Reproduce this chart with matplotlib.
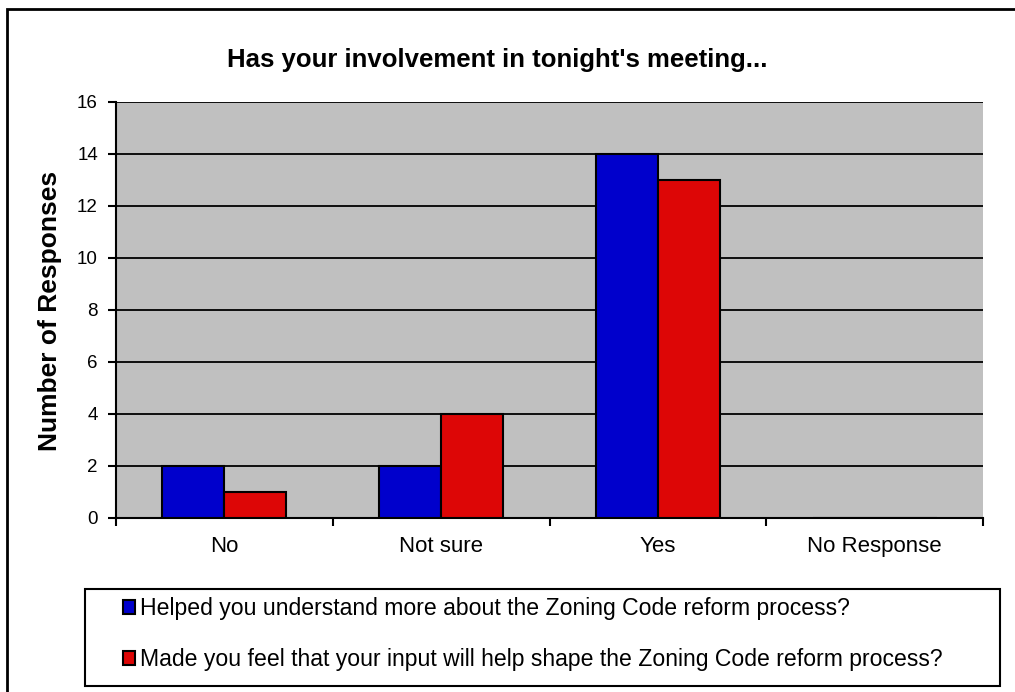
import numpy as np
import matplotlib
matplotlib.use("Agg")
import matplotlib.pyplot as plt
from matplotlib.patches import Rectangle

plt.rcParams['font.family'] = ['Liberation Sans', 'DejaVu Sans']

categories = ["No", "Not sure", "Yes", "No Response"]
understand = [2, 2, 14, 0]
input_shape = [1, 4, 13, 0]
series_names = [
    "Helped you understand more about the Zoning Code reform process?",
    "Made you feel that your input will help shape the Zoning Code reform process?",
]

W, H = 1015, 692
fig = plt.figure(figsize=(W / 100, H / 100), dpi=100)

# outer chart border (right/bottom fall outside the image)
fig.patches.append(Rectangle((7 / W, -0.05), 1.1, 1 - 9 / H + 0.05,
                             transform=fig.transFigure, fill=False,
                             edgecolor="black", linewidth=2, zorder=0))

ax = fig.add_axes([116 / W, 1 - 518 / H, (983 - 116) / W, (518 - 102) / H])
ax.set_facecolor("#C0C0C0")

x = np.arange(len(categories))
bw = 1 / 3.5
ax.bar(x - bw / 2, understand, bw, color="#0000CC", edgecolor="black",
       linewidth=1.5, zorder=3, label=series_names[0])
ax.bar(x + bw / 2, input_shape, bw, color="#DD0606", edgecolor="black",
       linewidth=1.5, zorder=3, label=series_names[1])

ax.set_xlim(-0.5, len(categories) - 0.5)
ax.set_ylim(0, 16)
ax.set_yticks(range(0, 17, 2))
ax.yaxis.grid(True, color="black", linewidth=1.3, zorder=1)
ax.set_axisbelow(True)

ax.set_xticks(np.arange(-0.5, len(categories), 1))
ax.set_xticklabels([])
ax.set_xticks(x, minor=True)
ax.set_xticklabels(categories, minor=True, fontsize=16)
ax.tick_params(axis="x", which="minor", length=0, pad=13)
ax.tick_params(axis="x", which="major", length=6, width=1.5, direction="out")
ax.tick_params(axis="y", length=6, width=1.5, direction="out", labelsize=13.5, pad=7)

for s in ["top", "right"]:
    ax.spines[s].set_visible(False)
for s in ["left", "bottom"]:
    ax.spines[s].set_linewidth(1.5)

fig.text(50 / W, 1 - 311 / H, "Number of Responses", rotation=90,
         ha="center", va="center", fontsize=19, fontweight="bold")

fig.text(0.49, 1 - 60 / H, "Has your involvement in tonight's meeting...",
         ha="center", va="center", fontsize=18.5, fontweight="bold")

# legend box
fig.patches.append(Rectangle((85 / W, 1 - 686 / H), (1000 - 85) / W, (686 - 589) / H,
                             transform=fig.transFigure, fill=False,
                             edgecolor="black", linewidth=1.5, zorder=1))
leg = fig.legend(loc="upper left", bbox_to_anchor=(123 / W, 1 - 597 / H),
                 ncol=1, fontsize=16.6, frameon=False,
                 handlelength=0.52, handleheight=0.52,
                 handletextpad=0.22, labelspacing=1.23, borderaxespad=0,
                 borderpad=0)

fig.savefig("out.png", dpi=100)
